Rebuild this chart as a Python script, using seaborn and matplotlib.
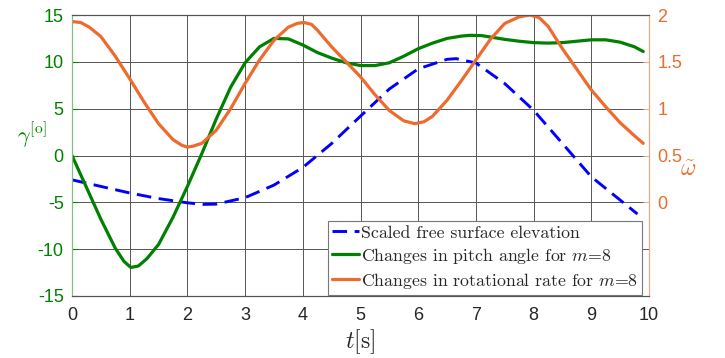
import numpy as np
import pandas as pd
import matplotlib
matplotlib.use("Agg")
import matplotlib.pyplot as plt
import seaborn as sns

# ---- data ----
t_pitch = [0, 0.25, 0.5, 0.75, 0.9, 1.02, 1.15, 1.3, 1.5, 1.75, 2.0, 2.25, 2.5, 2.75, 3.0,
           3.25, 3.5, 3.75, 4.0, 4.25, 4.5, 4.75, 5.0, 5.25, 5.5, 5.75, 6.0, 6.25, 6.5,
           6.75, 6.9, 7.1, 7.25, 7.5, 7.75, 8.0, 8.25, 8.5, 8.75, 9.0, 9.25, 9.5, 9.75, 9.9]
pitch = [0, -3.4, -6.8, -9.9, -11.3, -11.95, -11.8, -11.0, -9.5, -6.6, -3.3, 0.2, 3.9, 7.3, 9.9,
         11.6, 12.5, 12.45, 11.8, 11.0, 10.4, 9.9, 9.6, 9.6, 9.9, 10.6, 11.4, 12.0, 12.5,
         12.75, 12.83, 12.8, 12.65, 12.4, 12.2, 12.05, 12.0, 12.05, 12.2, 12.35, 12.35, 12.1,
         11.6, 11.1]

t_rate = [0, 0.15, 0.3, 0.5, 0.75, 1.0, 1.25, 1.5, 1.75, 1.9, 2.0, 2.1, 2.25, 2.5, 2.75, 3.0,
          3.25, 3.5, 3.75, 3.9, 4.02, 4.15, 4.25, 4.5, 4.75, 5.0, 5.25, 5.5, 5.75, 5.94,
          6.1, 6.25, 6.5, 6.75, 7.0, 7.25, 7.5, 7.75, 7.94, 8.1, 8.25, 8.5, 8.75, 9.0, 9.25,
          9.5, 9.75, 9.9]
rate = [1.93, 1.92, 1.87, 1.77, 1.56, 1.32, 1.07, 0.84, 0.67, 0.61, 0.59, 0.6, 0.63, 0.77, 1.0,
        1.27, 1.52, 1.73, 1.87, 1.91, 1.92, 1.9, 1.84, 1.66, 1.5, 1.34, 1.15, 0.98, 0.87,
        0.84, 0.86, 0.92, 1.09, 1.3, 1.52, 1.74, 1.91, 1.98, 2.0, 1.97, 1.88, 1.64, 1.42,
        1.2, 1.02, 0.85, 0.71, 0.63]

t_surf = [0, 0.5, 1.0, 1.5, 2.0, 2.27, 2.5, 3.0, 3.5, 4.0, 4.5, 5.0, 5.5, 6.0, 6.5, 6.66,
          7.0, 7.5, 8.0, 8.5, 9.0, 9.5, 9.8]
surf = [-2.6, -3.3, -4.0, -4.6, -5.05, -5.22, -5.19, -4.5, -3.16, -1.28, 1.28, 4.2, 7.1, 9.25,
        10.27, 10.34, 9.88, 7.68, 4.83, 1.28, -2.27, -4.76, -6.25]

x_ticks = list(range(0, 11))
left_ticks = [-15, -10, -5, 0, 5, 10, 15]
right_ticks = [0, 0.5, 1, 1.5, 2]

labels = ["Scaled free surface elevation",
          r"Changes in pitch angle for $m$=8",
          r"Changes in rotational rate for $m$=8"]

GREEN = "#008000"
ORANGE = "#EC6B2D"
BLUE = "#0000FF"

sns.set_style("white")
plt.rcParams["mathtext.fontset"] = "cm"
plt.rcParams["axes.unicode_minus"] = False
plt.rcParams["font.family"] = ["Liberation Sans", "DejaVu Sans"]

fig = plt.figure(figsize=(7.25, 3.58), dpi=100)
ax = fig.add_axes([72 / 725, 1 - 296 / 358, (649 - 72) / 725, (296 - 15) / 358])
ax2 = ax.twinx()

df_s = pd.DataFrame({"t": t_surf, "v": surf})
df_p = pd.DataFrame({"t": t_pitch, "v": pitch})
df_r = pd.DataFrame({"t": t_rate, "v": rate})

sns.lineplot(data=df_s, x="t", y="v", ax=ax, color=BLUE, lw=2.1,
             linestyle=(0, (5, 2.6)), label=labels[0], legend=False)
sns.lineplot(data=df_p, x="t", y="v", ax=ax, color=GREEN, lw=2.3,
             label=labels[1], legend=False)
sns.lineplot(data=df_r, x="t", y="v", ax=ax2, color=ORANGE, lw=2.3,
             label=labels[2], legend=False)

ax.set_xlim(0, 10)
ax.set_ylim(-15, 15)
ax2.set_ylim(-1, 2)
ax.set_xticks(x_ticks)
ax.set_yticks(left_ticks)
ax2.set_yticks(right_ticks)
ax2.set_yticklabels(["0", "0.5", "1", "1.5", "2"])

ax.grid(True, color="#555555", lw=0.7)
ax.set_axisbelow(True)

for a in (ax, ax2):
    a.set_ylabel("")
    a.set_xlabel("")
ax.tick_params(axis="x", colors="#262626", labelsize=13, direction="in", length=4, pad=8)
ax.tick_params(axis="y", colors=GREEN, labelcolor=GREEN, labelsize=13, direction="in",
               length=4, pad=6)
ax2.tick_params(axis="y", colors="#F4A582", labelcolor=ORANGE, labelsize=13, direction="in",
                length=4, pad=6)

for a in (ax, ax2):
    a.spines["top"].set_color("#555555")
    a.spines["bottom"].set_color("#555555")
    a.spines["left"].set_color("#7FC07F")
    a.spines["right"].set_color("#F4A582")
    for s in a.spines.values():
        s.set_linewidth(0.8)

ax.set_xlabel(r"$t[\mathrm{s}]$", fontsize=17, color="#262626", labelpad=2)
fig.text(32 / 725, 1 - 135 / 358, r"$\gamma^{[\mathrm{o}]}$", color=GREEN, fontsize=16,
         ha="center", va="center")
fig.text(688 / 725, 1 - 170 / 358, r"$\tilde{\omega}$", color=ORANGE, fontsize=17,
         ha="center", va="center")

h1, l1 = ax.get_legend_handles_labels()
h2, l2 = ax2.get_legend_handles_labels()
leg = ax2.legend(h1 + h2, l1 + l2, loc="lower right",
                 bbox_to_anchor=(642 / 725, 1 - 295 / 358), bbox_transform=fig.transFigure,
                 prop={"family": "cmr10", "size": 12.8}, frameon=True, fancybox=False,
                 edgecolor="#777777", framealpha=1, handlelength=1.5, handletextpad=0.1,
                 borderpad=0.25, labelspacing=0.28, borderaxespad=0)
leg.get_frame().set_linewidth(0.8)

fig.savefig("out.png", dpi=100)
